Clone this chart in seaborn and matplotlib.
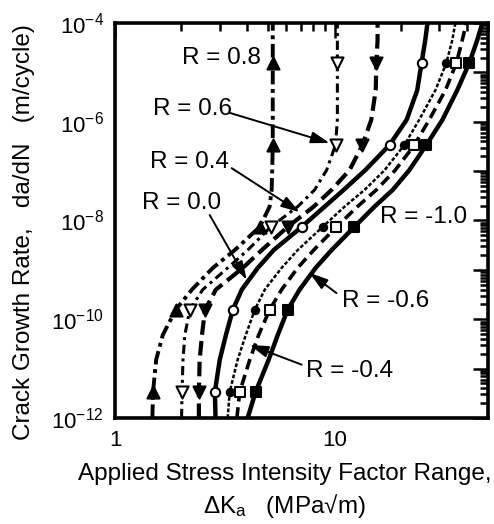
import numpy as np
import pandas as pd
import matplotlib
matplotlib.use("Agg")
import matplotlib.pyplot as plt
from matplotlib.ticker import LogLocator, FuncFormatter, NullFormatter
import seaborn as sns

# ---------------------------------------------------------------------------
# Data: crack growth rate (log10 of da/dN, m/cycle) shared by every curve,
# and the applied stress intensity factor range for each stress ratio R.
# ---------------------------------------------------------------------------
log_rate = [-12.0, -11.47, -10.82, -10.32, -9.81, -9.40, -8.96, -8.60, -8.13,
            -7.72, -7.38, -6.98, -6.47, -5.96, -5.36, -4.81, -4.34, -4.0]
marker_idx = [1, 4, 8, 12, 15]

dk_r08 = [1.48, 1.49, 1.54, 1.65, 1.89, 2.24, 2.79, 3.51, 4.56, 5.06, 5.17, 5.20,
          5.23, 5.23, 5.23, 5.23, 5.23, 5.23]
dk_r06 = [2.01, 2.02, 2.04, 2.08, 2.19, 2.51, 3.26, 4.02, 5.12, 6.79, 8.11, 9.20,
          10.1, 10.3, 10.3, 10.3, 10.3, 10.3]
dk_r04 = [2.41, 2.41, 2.43, 2.49, 2.57, 2.88, 3.82, 4.66, 6.11, 8.03, 9.69, 11.7,
          13.4, 14.7, 15.4, 15.5, 15.7, 15.7]
dk_r00 = [2.87, 2.85, 3.00, 3.20, 3.44, 3.78, 4.47, 5.28, 7.08, 9.01, 11.0, 13.8,
          17.8, 21.3, 23.8, 24.9, 25.9, 26.5]
dk_rm04 = [3.26, 3.33, 3.62, 3.94, 4.33, 4.81, 5.74, 6.79, 8.82, 11.1, 13.7, 16.9,
           20.8, 24.3, 28.8, 32.3, 34.4, 35.5]
dk_rm06 = [3.59, 3.70, 4.11, 4.51, 5.06, 5.74, 6.79, 8.03, 10.2, 12.7, 15.5, 18.9,
           23.1, 27.0, 32.0, 35.9, 38.2, 39.8]
dk_rm10 = [4.02, 4.37, 5.01, 5.51, 6.11, 6.93, 8.20, 9.69, 12.3, 15.2, 18.4, 21.9,
           26.2, 31.0, 36.2, 41.1, 44.7, 47.1]

ratios = ["0.8", "0.6", "0.4", "0.0", "-0.4", "-0.6", "-1.0"]
dk_by_ratio = [dk_r08, dk_r06, dk_r04, dk_r00, dk_rm04, dk_rm06, dk_rm10]

rows = []
for r, dk in zip(ratios, dk_by_ratio):
    for i, (k, e) in enumerate(zip(dk, log_rate)):
        rows.append({"R": r, "dK": k, "rate": 10.0 ** e, "marked": i in marker_idx})
df = pd.DataFrame(rows)

# ---------------------------------------------------------------------------
# Styling per stress ratio
# ---------------------------------------------------------------------------
line_style = {
    "0.8": dict(lw=2.8, ls=(0, (3.5, 1.2, 1.0, 1.2))),
    "0.6": dict(lw=2.2, ls=(0, (3.0, 1.5, 1.0, 1.5))),
    "0.4": dict(lw=3.0, ls=(0, (3.5, 1.5))),
    "0.0": dict(lw=3.2, ls="-"),
    "-0.4": dict(lw=1.8, ls=(0, (1.5, 0.8))),
    "-0.6": dict(lw=2.6, ls=(0, (3.0, 1.6))),
    "-1.0": dict(lw=3.2, ls="-"),
}
marker_style = {
    "0.8": dict(marker="^", s=75, facecolor="black"),
    "0.6": dict(marker="v", s=75, facecolor="white"),
    "0.4": dict(marker="v", s=75, facecolor="black"),
    "0.0": dict(marker="o", s=45, facecolor="white"),
    "-0.4": dict(marker="o", s=28, facecolor="black"),
    "-0.6": dict(marker="s", s=50, facecolor="white"),
    "-1.0": dict(marker="s", s=50, facecolor="black"),
}

sns.set_style("white")
plt.rcParams["font.family"] = ["Liberation Sans", "DejaVu Sans"]
plt.rcParams["mathtext.fontset"] = "custom"
plt.rcParams["mathtext.rm"] = "Liberation Sans"
plt.rcParams["mathtext.it"] = "Liberation Sans:italic"
plt.rcParams["mathtext.bf"] = "Liberation Sans:bold"
plt.rcParams["mathtext.default"] = "regular"
plt.rcParams["text.color"] = "black"
plt.rcParams["axes.labelcolor"] = "black"
plt.rcParams["xtick.color"] = "black"
plt.rcParams["ytick.color"] = "black"

fig = plt.figure(figsize=(4.94, 5.24), dpi=100)
ax = fig.add_axes([0.2328, 0.2023, 0.7551, 0.7538])

for r in ratios:
    sub = df[df["R"] == r]
    st = line_style[r]
    sns.lineplot(data=sub, x="dK", y="rate", ax=ax, sort=False, estimator=None,
                 color="black", linewidth=st["lw"], linestyle=st["ls"], zorder=2)
    mk = marker_style[r]
    sns.scatterplot(data=sub[sub["marked"]], x="dK", y="rate", ax=ax,
                    marker=mk["marker"], s=mk["s"], facecolor=mk["facecolor"],
                    edgecolor="black", linewidth=1.5, zorder=3)

ax.set_xscale("log")
ax.set_yscale("log")
ax.set_xlim(1, 50)
ax.set_ylim(1e-12, 1e-4)

# ---------------------------------------------------------------------------
# Curve labels and leader arrows
# ---------------------------------------------------------------------------
label_text = ["R = 0.8", "R = 0.6", "R = 0.4", "R = 0.0", "R = -1.0", "R = -0.6", "R = -0.4"]
label_pos = [(3.06, -4.71), (2.26, -5.74), (2.19, -6.81), (2.0, -7.64),
             (25.4, -7.93), (17.1, -9.63), (11.7, -11.04)]
arrow_from = [None, (3.33, -5.82), (3.40, -6.94), (2.70, -7.89),
              None, (10.2, -9.47), (7.08, -10.92)]
arrow_to = [None, (9.49, -6.43), (6.93, -7.83), (3.98, -9.20),
            None, (7.69, -9.06), (4.11, -10.52)]

for txt, (lx, ly), a0, a1 in zip(label_text, label_pos, arrow_from, arrow_to):
    ax.text(lx, 10 ** ly, txt, ha="center", va="center", fontsize=17.5, color="black", zorder=5)
    if a0 is not None:
        ax.annotate("", xy=(a1[0], 10 ** a1[1]), xytext=(a0[0], 10 ** a0[1]),
                    arrowprops=dict(arrowstyle="-|>,head_length=0.8,head_width=0.25",
                                    mutation_scale=14, color="black", lw=1.4,
                                    shrinkA=0, shrinkB=0), zorder=5)

# ---------------------------------------------------------------------------
# Axes, ticks and labels
# ---------------------------------------------------------------------------
ax.yaxis.set_major_locator(LogLocator(base=10, subs=(1.0,), numticks=30))
ax.yaxis.set_minor_locator(LogLocator(base=10, subs=np.arange(2, 10), numticks=30))
ax.yaxis.set_major_formatter(FuncFormatter(
    lambda v, p: "$10^{%d}$" % round(np.log10(v)) if round(np.log10(v)) % 2 == 0 else ""))
ax.yaxis.set_minor_formatter(NullFormatter())

ax.xaxis.set_major_locator(LogLocator(base=10, subs=(1.0,), numticks=10))
ax.xaxis.set_minor_locator(LogLocator(base=10, subs=np.arange(2, 10), numticks=10))
ax.xaxis.set_major_formatter(FuncFormatter(lambda v, p: "%d" % round(v)))
ax.xaxis.set_minor_formatter(NullFormatter())

ax.tick_params(which="both", direction="in", top=True, right=True,
               width=1.8, colors="black", labelsize=16)
ax.tick_params(which="major", length=11)
ax.tick_params(which="minor", length=6)
ax.tick_params(axis="x", which="major", pad=9)
ax.tick_params(axis="y", which="major", pad=8)

for sp in ax.spines.values():
    sp.set_linewidth(2.6)
    sp.set_color("black")

ax.set_xlabel("Applied Stress Intensity Factor Range,\n\u0394K$_\\mathrm{a}$   (MPa\u221am)",
              fontsize=17.5, linespacing=1.3)
ax.xaxis.set_label_coords(0.455, -0.115)
ax.set_ylabel("Crack Growth Rate,   da/dN   (m/cycle)", fontsize=17.5)
ax.yaxis.set_label_coords(-0.215, 0.47)

fig.savefig("out.png", dpi=100, facecolor="white")
